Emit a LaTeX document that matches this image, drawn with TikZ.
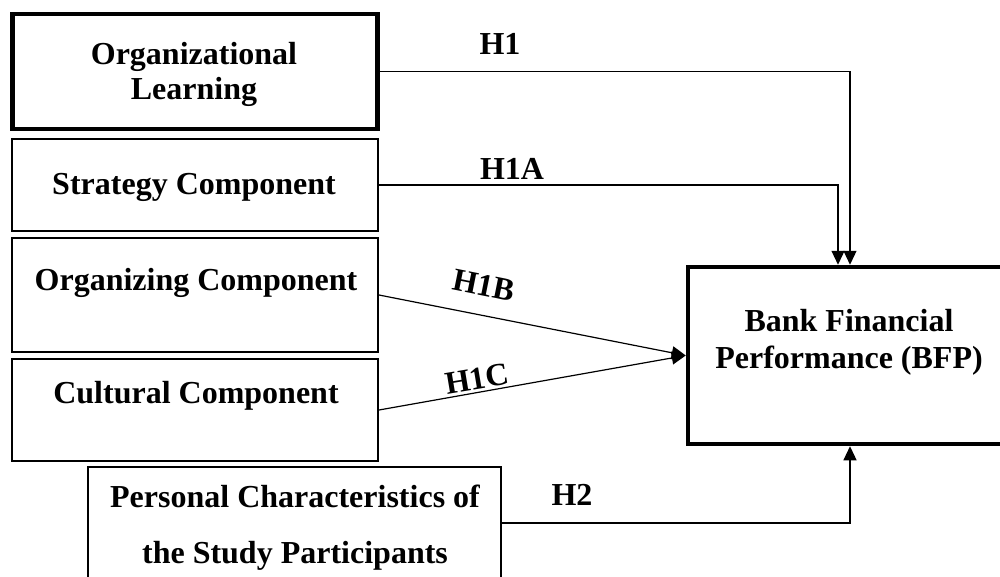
\documentclass[tikz,border=0pt]{standalone}
\usepackage{fontspec}
\setmainfont{Liberation Serif}
\usetikzlibrary{arrows.meta}
\begin{document}
\begin{tikzpicture}[x=1pt,y=-1pt,
  thickbox/.style={draw=black,line width=4.5pt,minimum width=#1,inner sep=0pt},
  thinbox/.style={draw=black,line width=2pt,inner sep=0pt},
  lbl/.style={font=\fontsize{32}{35}\selectfont\bfseries,inner sep=0pt,anchor=base},
  hyp/.style={font=\fontsize{32}{35}\selectfont\bfseries,inner sep=0pt},
  conn/.style={draw=black,line width=1.2pt,-{Triangle[length=14pt,width=13pt]}}]
\useasboundingbox (0,0) rectangle (1000,577);
\clip (0,0) rectangle (1000,577);
% boxes
\node[thickbox=365pt,minimum height=115pt] (ol) at (195,71.5) {};
\node[thinbox,minimum width=366pt,minimum height=92pt] (st) at (195,185) {};
\node[thinbox,minimum width=366pt,minimum height=114pt] (org) at (195,295) {};
\node[thinbox,minimum width=366pt,minimum height=102pt] (cul) at (195,410) {};
\node[thinbox,minimum width=413pt,minimum height=112pt] (pc) at (294.5,523) {};
\node[thickbox=324pt,minimum height=177pt] (bfp) at (850,355.5) {};
% box texts
\node[lbl] (olt1) at (194,65) {Organizational};
\node[lbl] (olt2) at (194,100) {Learning};
\node[lbl] (stt) at (194,195) {Strategy Component};
\node[lbl] (orgt) at (196,290) {Organizing Component};
\node[lbl] (cult) at (196,403) {Cultural Component};
\node[lbl] (pct1) at (295,507) {Personal Characteristics of};
\node[lbl] (pct2) at (295,563) {the Study Participants};
\node[lbl] (bfpt1) at (849,331) {Bank Financial};
\node[lbl] (bfpt2) at (849,368) {Performance (BFP)};
% connectors
\draw[conn] (ol.east) -| (bfp.north);
\draw[conn] (st.east) -| ([xshift=-12pt]bfp.north);
\draw[conn] (org.east) -- (bfp.west);
\draw[conn] (cul.east) -- (bfp.west);
\draw[conn] (pc.east) -| (bfp.south);
% hypothesis labels
\node[lbl] (h1) at (500,55) {H1};
\node[lbl] (h1a) at (512,180) {H1A};
\node[hyp,rotate=-11.4] (h1b) at (484,285) {H1B};
\node[hyp,rotate=9.5] (h1c) at (477,379) {H1C};
\node[lbl] (h2) at (572,505) {H2};
\end{tikzpicture}
\end{document}
